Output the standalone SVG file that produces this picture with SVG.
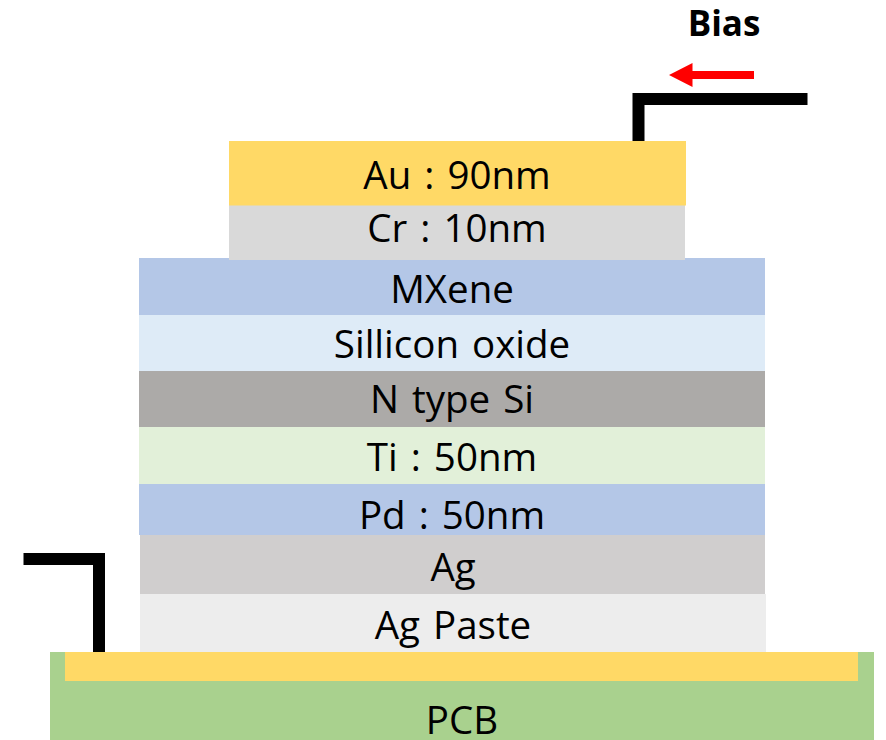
<svg xmlns="http://www.w3.org/2000/svg" width="886" height="740" viewBox="0 0 886 740">
<style>
text{font-family:"Open Sans","Noto Sans",sans-serif;font-size:38.500px;word-spacing:3px;fill:#000;text-anchor:middle}
.b{font-weight:700;font-size:35px;word-spacing:0}
.w{fill:none;stroke:#000;stroke-width:12}
</style>
<rect width="886" height="740" fill="#fff"/>
<g id="pcb"><rect x="50" y="652" width="824" height="88" fill="#a9d18e"/><text x="462" y="734">PCB</text></g>
<g id="pad"><rect x="65" y="652" width="793" height="29" fill="#ffd966"/></g>
<g id="agpaste"><rect x="140" y="594" width="626" height="58" fill="#ededed"/><text x="453" y="639">Ag Paste</text></g>
<g id="ag"><rect x="140" y="535" width="625" height="59" fill="#d0cece"/><text x="453" y="581">Ag</text></g>
<g id="pd"><rect x="139" y="484" width="626" height="51" fill="#b4c7e7"/><text x="452" y="529">Pd : 50nm</text></g>
<g id="ti"><rect x="139" y="427" width="626" height="57" fill="#e2f0d9"/><text x="452" y="471">Ti : 50nm</text></g>
<g id="si"><rect x="139" y="371" width="626" height="56" fill="#acaaa8"/><text x="452" y="413">N type Si</text></g>
<g id="oxide"><rect x="139" y="315" width="626" height="56" fill="#deebf7"/><text x="452" y="358">Sillicon oxide</text></g>
<g id="mxene"><rect x="139" y="258" width="626" height="57" fill="#b4c7e7"/><text x="452" y="303">MXene</text></g>
<g id="cr"><rect x="229" y="205" width="456" height="55" fill="#d9d9d9"/><text x="457" y="242">Cr : 10nm</text></g>
<g id="au"><rect x="229" y="141" width="457" height="64.500" fill="#ffd966"/><text x="457" y="189">Au : 90nm</text></g>
<g id="bias"><text class="b" x="724" y="36">Bias</text></g>
<g id="connectors">
<path class="w" d="M638.500 141V99H807.500"/>
<path class="w" d="M23.500 559H99V652"/>
<path d="M754 71H692.500V63L669 75L692.500 87V79H754Z" fill="#f00"/>
</g>
</svg>
